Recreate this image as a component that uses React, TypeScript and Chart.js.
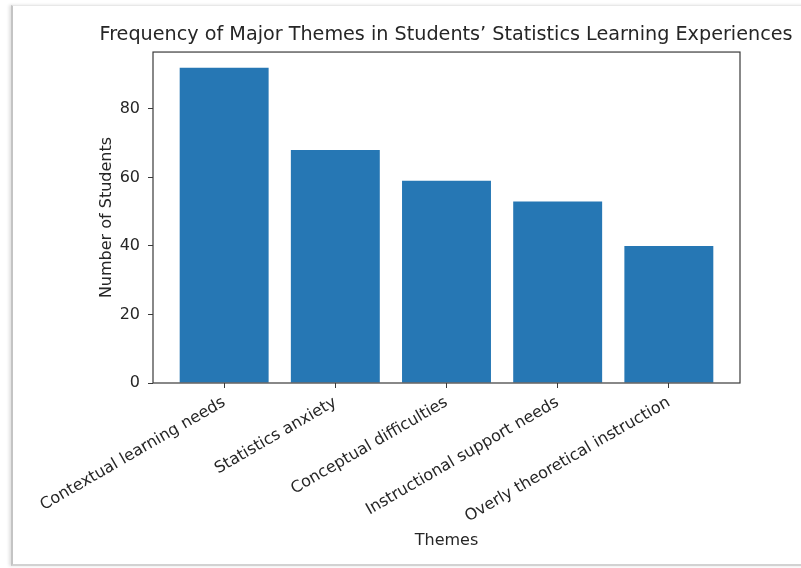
import React, { useEffect, useRef } from "react";
import { Chart, registerables } from "chart.js";

Chart.register(...registerables);

const categories = [
  "Contextual learning needs",
  "Statistics anxiety",
  "Conceptual difficulties",
  "Instructional support needs",
  "Overly theoretical instruction",
];
const students = [92, 68, 59, 53, 40];
const yTicks = [0, 20, 40, 60, 80];

const FONT = "'DejaVu Sans', sans-serif";
const TEXT = "#262626";
const AXIS = "#3a3a3a";

const boxPlugin = {
  id: "axesBox",
  afterDraw(chart: any) {
    const { ctx, chartArea } = chart;
    ctx.save();
    ctx.strokeStyle = AXIS;
    ctx.lineWidth = 1.2;
    ctx.strokeRect(chartArea.left, chartArea.top, chartArea.right - chartArea.left, chartArea.bottom - chartArea.top);
    ctx.restore();
  },
};

export default function App() {
  const ref = useRef<HTMLCanvasElement | null>(null);
  useEffect(() => {
    if (!ref.current) return;
    const n = categories.length;
    const chart = new Chart(ref.current, {
      type: "bar",
      data: {
        datasets: [
          {
            data: categories.map((_, i) => ({ x: i, y: students[i] })),
            backgroundColor: "#2677b4",
            borderWidth: 0,
            categoryPercentage: 1,
            barPercentage: 0.8,
          },
        ],
      },
      options: {
        animation: false,
        responsive: false,
        devicePixelRatio: 1,
        layout: { padding: { left: 91, right: 0, top: 0, bottom: 18 } },
        plugins: {
          legend: { display: false },
          tooltip: { enabled: false },
          title: {
            display: true,
            text: "Frequency of Major Themes in Students\u2019 Statistics Learning Experiences",
            color: TEXT,
            font: { family: FONT, size: 19.2, weight: "normal" },
            padding: { top: 23.5, bottom: 5.5 },
          },
        },
        scales: {
          x: {
            type: "linear",
            offset: false,
            min: -0.4 - 0.05 * (n - 1 + 0.8),
            max: n - 1 + 0.4 + 0.05 * (n - 1 + 0.8),
            afterBuildTicks: (s: any) => {
              s.ticks = categories.map((_, i) => ({ value: i }));
            },
            afterFit: (s: any) => {
              s.height = 167;
            },
            ticks: {
              autoSkip: false,
              includeBounds: false,
              minRotation: 30,
              maxRotation: 30,
              padding: 5,
              color: TEXT,
              font: { family: FONT, size: 16 },
              callback: (v: any) => categories[v as number] ?? "",
            },
            grid: { offset: false, drawOnChartArea: false, drawTicks: true, tickLength: 5, color: AXIS },
            border: { display: false },
            title: {
              display: true,
              text: "Themes",
              color: TEXT,
              font: { family: FONT, size: 16 },
              padding: { top: 0, bottom: 0 },
            },
          },
          y: {
            type: "linear",
            position: "left",
            min: 0,
            max: Math.max(...students) * 1.05,
            afterBuildTicks: (s: any) => {
              s.ticks = yTicks.map((v) => ({ value: v }));
            },
            afterFit: (s: any) => {
              s.width = 62;
            },
            ticks: {
              includeBounds: false,
              padding: 8,
              color: TEXT,
              font: { family: FONT, size: 16 },
            },
            grid: { drawOnChartArea: false, drawTicks: true, tickLength: 5, color: AXIS },
            border: { display: false },
            title: {
              display: true,
              text: "Number of Students",
              color: TEXT,
              font: { family: FONT, size: 16 },
              padding: { top: 6, bottom: 0 },
            },
          },
          rightSpace: {
            type: "linear",
            position: "right",
            display: true,
            afterFit: (s: any) => {
              s.width = 61;
            },
            ticks: { display: false },
            grid: { display: false, drawTicks: false },
            border: { display: false },
          },
        },
      },
      plugins: [boxPlugin],
    } as any);
    return () => chart.destroy();
  }, []);

  return (
    <div style={{ position: "absolute", left: 0, top: 0, width: 801, height: 568, background: "#fff", overflow: "hidden" }}>
      <div
        style={{
          position: "absolute",
          left: 11,
          top: 5,
          width: 800,
          height: 558,
          borderLeft: "2px solid #c4c4c4",
          borderTop: "1px solid #e8e8e8",
          borderBottom: "2px solid #d2d2d2",
          boxShadow: "-2px 0 3px rgba(0,0,0,0.12)",
        }}
      />
      <canvas ref={ref} width={801} height={568} style={{ position: "absolute", left: 0, top: 0, width: 801, height: 568 }} />
    </div>
  );
}
